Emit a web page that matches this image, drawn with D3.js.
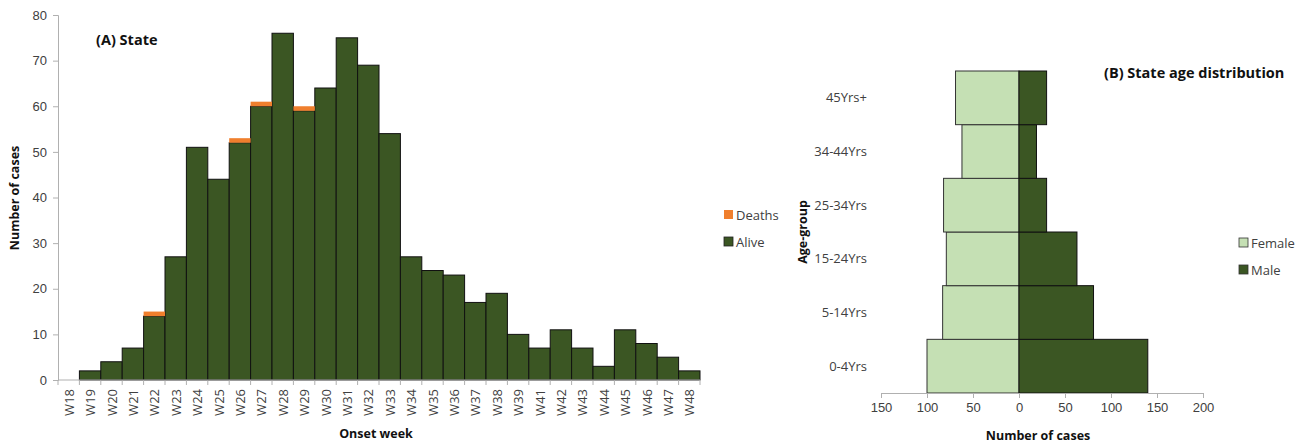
<!DOCTYPE html>
<html><head><meta charset="utf-8">
<script src="https://cdn.jsdelivr.net/npm/d3@7"></script>
<style>
body{margin:0;background:#fff;}
svg{display:block;font-family:"Open Sans","Liberation Sans",sans-serif;}
.tick text{fill:#404040;}
</style></head>
<body><svg id="c" width="1308" height="443"></svg>
<script>
const weeks = ["W18","W19","W20","W21","W22","W23","W24","W25","W26","W27","W28","W29","W30","W31","W32","W33","W34","W35","W36","W37","W38","W39","W41","W42","W43","W44","W45","W46","W47","W48"];
const alive = [0,2,4,7,14,27,51,44,52,60,76,59,64,75,69,54,27,24,23,17,19,10,7,11,7,3,11,8,5,2];
const deaths = [0,0,0,0,1,0,0,0,1,1,0,1,0,0,0,0,0,0,0,0,0,0,0,0,0,0,0,0,0,0];
const yTicksA = [0,10,20,30,40,50,60,70,80];

const ageGroups = ["0-4Yrs","5-14Yrs","15-24Yrs","25-34Yrs","34-44Yrs","45Yrs+"];
const female = [100,83,79,82,62,69];
const male = [140,81,63,30,19,30];
const xTicksB = [-150,-100,-50,0,50,100,150,200];

const C_ALIVE = "#3b5623", C_DEATH = "#f07f2d", C_FEM = "#c5e0b4", C_MALE = "#3b5623";
const AXIS = "#b0b0b0";
const svg = d3.select("#c");

// ---------- Chart A ----------
const A = {l:58, r:700, t:15, b:380};
const xA = d3.scaleBand().domain(weeks).range([A.l, A.r]).padding(0);
const yA = d3.scaleLinear().domain([0,80]).range([A.b, A.t]);
const gA = svg.append("g");
const stacked = weeks.map((w,i)=>({w, a:alive[i], d:deaths[i]}));
gA.selectAll("rect.alive").data(stacked).join("rect")
  .attr("x", d=>xA(d.w)).attr("width", xA.bandwidth())
  .attr("y", d=>yA(d.a)).attr("height", d=>yA(0)-yA(d.a))
  .attr("fill", C_ALIVE).attr("stroke", d=>d.a>0?"#111":"none").attr("stroke-width",1);
gA.selectAll("rect.death").data(stacked.filter(d=>d.d>0)).join("rect")
  .attr("x", d=>xA(d.w)).attr("width", xA.bandwidth())
  .attr("y", d=>yA(d.a+d.d)).attr("height", d=>yA(d.a)-yA(d.a+d.d))
  .attr("fill", C_DEATH);

const yAxA = d3.axisLeft(yA).tickValues(yTicksA).tickSize(5).tickPadding(6);
const gy = gA.append("g").attr("transform",`translate(${A.l},0)`).call(yAxA);
gy.select(".domain").attr("stroke",AXIS);
gy.selectAll(".tick line").attr("stroke",AXIS);
gy.selectAll(".tick text").attr("font-size",13);

// x axis with ticks between categories
const gx = gA.append("g").attr("transform",`translate(0,${A.b})`);
gx.append("line").attr("x1",A.l).attr("x2",A.r).attr("stroke",AXIS);
const bounds = weeks.map(w=>xA(w)).concat([A.r]);
gx.selectAll("line.tk").data(bounds).join("line")
  .attr("x1",d=>d).attr("x2",d=>d).attr("y1",0).attr("y2",5).attr("stroke",AXIS);
gx.selectAll("text").data(weeks).join("text")
  .attr("transform", d=>`translate(${xA(d)+xA.bandwidth()/2+5},9) rotate(-90)`)
  .attr("text-anchor","end").attr("font-size",13).attr("fill","#404040").text(d=>d);

svg.append("text").attr("transform","translate(19,198) rotate(-90)").attr("text-anchor","middle")
  .attr("font-size",12.5).attr("font-weight","bold").attr("fill","#111").text("Number of cases");
svg.append("text").attr("x",376).attr("y",438).attr("text-anchor","middle")
  .attr("font-size",12.5).attr("font-weight","bold").attr("fill","#111").text("Onset week");
svg.append("text").attr("x",96).attr("y",45).attr("font-size",14.5).attr("font-weight","bold")
  .attr("fill","#111").text("(A) State");

// legend A
const legA = [{k:"Deaths",c:C_DEATH,y:215},{k:"Alive",c:C_ALIVE,y:242}];
legA.forEach(d=>{
  svg.append("rect").attr("x",724).attr("y",d.y-5).attr("width",9).attr("height",9).attr("fill",d.c)
   .attr("stroke", d.k==="Alive"?"#222":"none").attr("stroke-width",0.8);
  svg.append("text").attr("x",736).attr("y",d.y+4.5).attr("font-size",13).attr("fill","#404040").text(d.k);
});

// ---------- Chart B ----------
const B = {l:881, r:1203, t:71, b:393};
const xB = d3.scaleLinear().domain([-150,200]).range([B.l,B.r]);
const yB = d3.scaleBand().domain(ageGroups).range([B.b,B.t]).padding(0);
const gB = svg.append("g");
const rows = ageGroups.map((a,i)=>({a,f:female[i],m:male[i]}));
gB.selectAll("rect.f").data(rows).join("rect")
  .attr("x",d=>xB(-d.f)).attr("width",d=>xB(0)-xB(-d.f))
  .attr("y",d=>yB(d.a)).attr("height",yB.bandwidth())
  .attr("fill",C_FEM).attr("stroke","#333").attr("stroke-width",1);
gB.selectAll("rect.m").data(rows).join("rect")
  .attr("x",xB(0)).attr("width",d=>xB(d.m)-xB(0))
  .attr("y",d=>yB(d.a)).attr("height",yB.bandwidth())
  .attr("fill",C_MALE).attr("stroke","#111").attr("stroke-width",1);

const xAxB = d3.axisBottom(xB).tickValues(xTicksB).tickSize(5).tickPadding(5).tickFormat(d=>Math.abs(d));
const gxb = gB.append("g").attr("transform",`translate(0,${B.b})`).call(xAxB);
gxb.select(".domain").attr("stroke",AXIS);
gxb.selectAll(".tick line").attr("stroke",AXIS);
gxb.selectAll(".tick text").attr("font-size",13);

gB.selectAll("text.cat").data(ageGroups).join("text")
  .attr("x",867).attr("y",d=>yB(d)+yB.bandwidth()/2+4.5).attr("text-anchor","end")
  .attr("font-size",13).attr("fill","#404040").text(d=>d);

svg.append("text").attr("transform","translate(807,232) rotate(-90)").attr("text-anchor","middle")
  .attr("font-size",12.5).attr("font-weight","bold").attr("fill","#111").text("Age-group");
svg.append("text").attr("x",1038).attr("y",440).attr("text-anchor","middle")
  .attr("font-size",12.5).attr("font-weight","bold").attr("fill","#111").text("Number of cases");
svg.append("text").attr("x",1104).attr("y",78).attr("font-size",14.5).attr("font-weight","bold")
  .attr("fill","#111").text("(B) State age distribution");

const legB = [{k:"Female",c:C_FEM,y:243},{k:"Male",c:C_MALE,y:270}];
legB.forEach(d=>{
  svg.append("rect").attr("x",1239).attr("y",d.y-5).attr("width",9).attr("height",9).attr("fill",d.c)
   .attr("stroke","#333").attr("stroke-width",0.8);
  svg.append("text").attr("x",1251).attr("y",d.y+4.5).attr("font-size",13).attr("fill","#404040").text(d.k);
});
</script></body></html>
